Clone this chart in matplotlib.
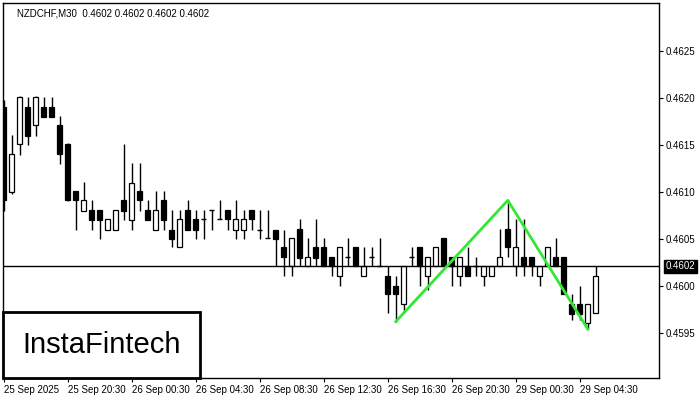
import matplotlib
matplotlib.use('Agg')
import matplotlib.pyplot as plt
from matplotlib.patches import Rectangle

# NZDCHF M30 candles
opens = [0.46190, 0.46100, 0.46151, 0.46190, 0.46171, 0.46190, 0.46190, 0.46171, 0.46151, 0.46101,
         0.46080, 0.46081, 0.46081, 0.46060, 0.46060, 0.46091, 0.46070, 0.46101, 0.46081, 0.46060,
         0.46091, 0.46060, 0.46041, 0.46081, 0.46071, 0.46071, 0.46081, 0.46071, 0.46081, 0.46060,
         0.46060, 0.46081, 0.46060, 0.46051, 0.46060, 0.46041, 0.46021, 0.46061, 0.46021, 0.46041,
         0.46041, 0.46031, 0.46011, 0.46031, 0.46041, 0.46011, 0.46031, 0.46021, 0.46011, 0.46000,
         0.45981, 0.46031, 0.46041, 0.46011, 0.46021, 0.46051, 0.46031, 0.46011, 0.46021, 0.46021,
         0.46011, 0.46011, 0.46021, 0.46061, 0.46021, 0.46031, 0.46031, 0.46011, 0.46021, 0.46031,
         0.46031, 0.45981, 0.45981, 0.45961, 0.45971]
highs = [0.46198, 0.46161, 0.46202, 0.46201, 0.46202, 0.46201, 0.46201, 0.46181, 0.46152, 0.46101,
         0.46111, 0.46091, 0.46081, 0.46071, 0.46081, 0.46151, 0.46131, 0.46131, 0.46091, 0.46101,
         0.46101, 0.46081, 0.46081, 0.46091, 0.46081, 0.46081, 0.46081, 0.46091, 0.46081, 0.46091,
         0.46081, 0.46081, 0.46081, 0.46081, 0.46060, 0.46060, 0.46051, 0.46071, 0.46051, 0.46071,
         0.46051, 0.46031, 0.46041, 0.46051, 0.46041, 0.46041, 0.46041, 0.46051, 0.46021, 0.46011,
         0.46021, 0.46041, 0.46041, 0.46031, 0.46041, 0.46051, 0.46031, 0.46031, 0.46041, 0.46031,
         0.46021, 0.46021, 0.46061, 0.46091, 0.46071, 0.46071, 0.46031, 0.46021, 0.46041, 0.46051,
         0.46031, 0.45991, 0.46000, 0.45981, 0.46021]
lows = [0.46080, 0.46098, 0.46139, 0.46150, 0.46160, 0.46180, 0.46180, 0.46130, 0.46090, 0.46060,
        0.46080, 0.46060, 0.46050, 0.46060, 0.46060, 0.46070, 0.46060, 0.46080, 0.46070, 0.46060,
        0.46060, 0.46041, 0.46041, 0.46060, 0.46050, 0.46050, 0.46060, 0.46071, 0.46060, 0.46050,
        0.46050, 0.46060, 0.46050, 0.46051, 0.46021, 0.46011, 0.46011, 0.46021, 0.46021, 0.46021,
        0.46021, 0.46011, 0.46000, 0.46021, 0.46021, 0.46011, 0.46021, 0.46021, 0.45971, 0.45962,
        0.45971, 0.46021, 0.46000, 0.45996, 0.46021, 0.46021, 0.46000, 0.46000, 0.46011, 0.46011,
        0.46000, 0.46011, 0.46021, 0.46031, 0.46011, 0.46011, 0.46011, 0.46000, 0.46021, 0.46021,
        0.45991, 0.45964, 0.45964, 0.45954, 0.45971]
closes = [0.46091, 0.46140, 0.46201, 0.46160, 0.46201, 0.46180, 0.46180, 0.46140, 0.46091, 0.46091,
          0.46091, 0.46070, 0.46070, 0.46071, 0.46081, 0.46080, 0.46110, 0.46091, 0.46070, 0.46081,
          0.46070, 0.46050, 0.46071, 0.46060, 0.46060, 0.46071, 0.46081, 0.46071, 0.46071, 0.46071,
          0.46071, 0.46071, 0.46060, 0.46051, 0.46050, 0.46031, 0.46051, 0.46030, 0.46031, 0.46030,
          0.46021, 0.46021, 0.46041, 0.46031, 0.46021, 0.46021, 0.46031, 0.46021, 0.45991, 0.45991,
          0.46021, 0.46031, 0.46021, 0.46031, 0.46041, 0.46021, 0.46021, 0.46031, 0.46011, 0.46021,
          0.46021, 0.46021, 0.46031, 0.46041, 0.46041, 0.46021, 0.46021, 0.46021, 0.46041, 0.46021,
          0.45991, 0.45970, 0.45970, 0.45981, 0.46011]

time_labels = ["25 Sep 2025", "25 Sep 20:30", "26 Sep 00:30", "26 Sep 04:30", "26 Sep 08:30",
               "26 Sep 12:30", "26 Sep 16:30", "26 Sep 20:30", "29 Sep 00:30", "29 Sep 04:30"]
price_ticks = [0.4595, 0.4600, 0.4605, 0.4610, 0.4615, 0.4620, 0.4625]
last_price = 0.46021

# double bottom pattern: bar index and price
pattern_idx = [49, 63, 73]
pattern_price = [0.45962, 0.46091, 0.45954]

plt.rcParams['font.family'] = 'Liberation Sans'

fig = plt.figure(figsize=(7, 4), dpi=100)
ax = fig.add_axes([3/700, 22/400, 656/700, 375/400])

x = list(range(len(opens)))
ax.vlines(x, lows, highs, color='black', lw=1, zorder=1)
for i in x:
    o, c = opens[i], closes[i]
    if abs(c - o) < 1e-6:
        ax.hlines(o, i - 0.32, i + 0.32, color='black', lw=1, zorder=2)
    else:
        col = 'white' if c > o else 'black'
        ax.bar(i, abs(c - o), bottom=min(o, c), width=0.62, color=col,
               edgecolor='black', linewidth=0.9, zorder=2)

ax.plot(pattern_idx, pattern_price, color='#33E833', lw=2, zorder=4)
ax.axhline(last_price, color='black', lw=1, zorder=3)

ax.set_xlim(-0.1, 81.9)
ax.set_ylim(0.45902, 0.46301)

ax.yaxis.tick_right()
ax.set_yticks(price_ticks)
ax.set_yticklabels(['%.4f' % p for p in price_ticks])
ax.tick_params(axis='y', direction='out', length=3, labelsize=7, pad=2)
ax.set_xticks(range(0, len(opens), 8))
ax.set_xticklabels(time_labels, ha='left')
ax.tick_params(axis='x', direction='out', length=3, labelsize=7, pad=2)

for s in ax.spines.values():
    s.set_color('black')
    s.set_linewidth(1)

ax.annotate('%.4f' % last_price, xy=(1.0, last_price), xycoords=('axes fraction', 'data'),
            xytext=(5, 0), textcoords='offset points', va='center', ha='left',
            fontsize=7, color='white',
            bbox=dict(boxstyle='square,pad=0.15', fc='black', ec='black'))

ax.text(0.022, 0.985, 'NZDCHF,M30  0.4602 0.4602 0.4602 0.4602', transform=ax.transAxes,
        fontsize=7, va='top', ha='left', color='black')

# logo box
fig.patches.append(Rectangle((3/700, 22/400), 197/700, 66/400, transform=fig.transFigure,
                             fc='white', ec='black', lw=2, zorder=5))
fig.text(102/700, 55/400, 'InstaFintech', fontsize=21, ha='center', va='center',
         color='black', zorder=6)

fig.savefig('out.png', dpi=100)
